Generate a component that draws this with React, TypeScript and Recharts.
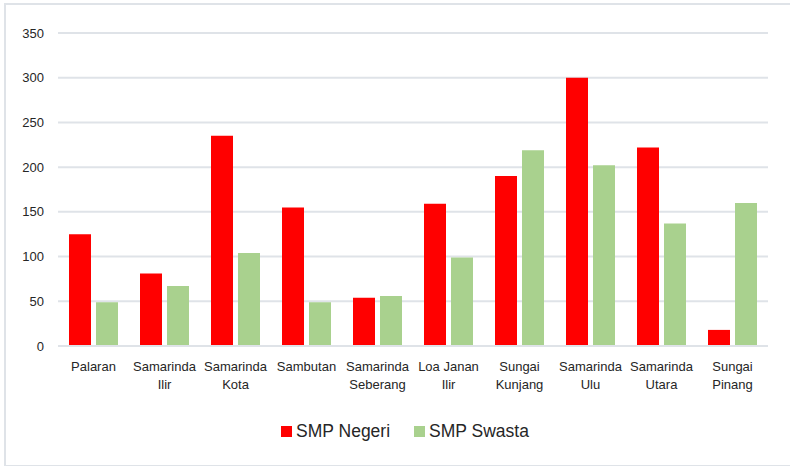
import React from "react";
import { BarChart, Bar, XAxis, YAxis, CartesianGrid, Legend } from "recharts";

const categories = [
  "Palaran",
  "Samarinda Ilir",
  "Samarinda Kota",
  "Sambutan",
  "Samarinda Seberang",
  "Loa Janan Ilir",
  "Sungai Kunjang",
  "Samarinda Ulu",
  "Samarinda Utara",
  "Sungai Pinang",
];
const categoryLines = [
  ["Palaran"],
  ["Samarinda", "Ilir"],
  ["Samarinda", "Kota"],
  ["Sambutan"],
  ["Samarinda", "Seberang"],
  ["Loa Janan", "Ilir"],
  ["Sungai", "Kunjang"],
  ["Samarinda", "Ulu"],
  ["Samarinda", "Utara"],
  ["Sungai", "Pinang"],
];
const smpNegeri = [125, 81, 235, 155, 54, 159, 190, 300, 222, 18];
const smpSwasta = [49, 67, 104, 49, 56, 99, 219, 202, 137, 160];
const yTicks = [0, 50, 100, 150, 200, 250, 300, 350];
const seriesNames = ["SMP Negeri", "SMP Swasta"];
const seriesColors = ["#FF0000", "#A9D18E"];

const data = categories.map((c, i) => ({
  name: c,
  negeri: smpNegeri[i],
  swasta: smpSwasta[i],
}));

const FONT = "'Liberation Sans', Arial, sans-serif";
const TEXT = "#262626";
const GRID = "#DFE3E8";

const XTick = (props: any) => {
  const { x, y, index } = props;
  const lines = categoryLines[index] || [props.payload.value];
  return (
    <text x={x} y={y} textAnchor="middle" fill={TEXT} fontSize={13} fontFamily={FONT}>
      {lines.map((l: string, i: number) => (
        <tspan key={i} x={x} dy={i === 0 ? 25 : 18}>
          {l}
        </tspan>
      ))}
    </text>
  );
};

const LegendContent = (props: any) => {
  const payload = props.payload || [];
  return (
    <div
      style={{
        height: 30,
        display: "flex",
        justifyContent: "center",
        alignItems: "center",
        paddingLeft: 42,
        fontFamily: FONT,
        fontSize: 17.5,
        color: TEXT,
      }}
    >
      {payload.map((p: any, i: number) => (
        <div
          key={i}
          style={{ display: "flex", alignItems: "center", marginRight: i === 0 ? 24 : 0 }}
        >
          <div style={{ width: 11, height: 11, background: p.color, marginRight: 4 }} />
          <span>{p.value}</span>
        </div>
      ))}
    </div>
  );
};

export default function App() {
  return (
    <div style={{ position: "absolute", left: 0, top: 0, width: 790, height: 466, overflow: "hidden", background: "#fff" }}>
      <div
        style={{
          position: "absolute",
          left: 4,
          top: 3,
          width: 800,
          height: 460,
          borderLeft: `2px solid ${GRID}`,
          borderTop: `2px solid ${GRID}`,
          borderBottom: `2px solid ${GRID}`,
        }}
      />
      <div style={{ position: "absolute", left: 0, top: 0 }}>
        <BarChart
          width={790}
          height={466}
          data={data}
          margin={{ top: 33, right: 22, bottom: 20, left: 0 }}
          barSize={22}
          barGap={5}
        >
          <CartesianGrid vertical={false} stroke={GRID} strokeWidth={2} />
          <XAxis
            dataKey="name"
            tick={<XTick />}
            tickLine={false}
            axisLine={{ stroke: GRID, strokeWidth: 2 }}
            tickSize={0}
            tickMargin={0}
            height={70}
            interval={0}
          />
          <YAxis
            domain={[0, 350]}
            ticks={yTicks}
            width={58}
            axisLine={false}
            tickLine={false}
            tickSize={6}
            tickMargin={8}
            tick={{ fill: TEXT, fontSize: 13, fontFamily: FONT }}
          />
          <Legend verticalAlign="bottom" content={<LegendContent />} />
          <Bar dataKey="negeri" name={seriesNames[0]} fill={seriesColors[0]} isAnimationActive={false} />
          <Bar dataKey="swasta" name={seriesNames[1]} fill={seriesColors[1]} isAnimationActive={false} />
        </BarChart>
      </div>
    </div>
  );
}
